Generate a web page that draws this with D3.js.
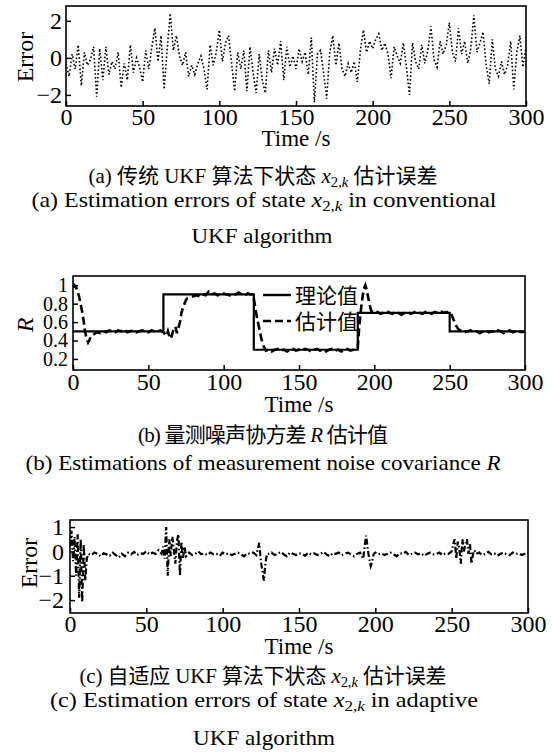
<!DOCTYPE html>
<html>
<head>
<meta charset="utf-8">
<script src="https://cdn.jsdelivr.net/npm/d3@7"></script>
<style>
body { margin: 0; background: #fff; }
svg { display: block; }
text { font-family: "Liberation Serif", "Times New Roman", "Noto Sans CJK SC", serif; fill: #000; }
</style>
</head>
<body>
<div id="chart"></div>
<script>
// shared x ticks
var xTicks = [0, 50, 100, 150, 200, 250, 300];

// (a) conventional UKF error, one value every 2 s
var stepA = 2;
var errA = [-0.3, -1.0, 0.2, -0.6, 0.7, -1.5, 0.3, -0.4, -0.1, 0.6,
  -2.1, 0.5, -1.2, 0.6, -0.9, -0.2, -0.6, 0.3, -1.6, -0.3,
  -1.2, 0.7, -0.8, 0.0, -0.5, -1.3, 0.4, -0.6, 0.6, 1.6,
  -0.2, 1.2, -1.7, 0.5, 2.4, 0.4, 1.2, 0.1, -0.4, 0.3,
  -1.0, -0.4, -0.9, -0.3, 0.1, -0.6, -1.7, 0.7, -0.4, 0.3,
  1.5, -0.2, 0.8, 1.2, -0.3, -1.8, 0.3, -0.6, 0.4, -1.8,
  0.6, -0.8, -1.9, 0.2, -1.2, -1.9, 0.4, -0.8, 0.5, -0.4,
  0.9, -1.2, 0.6, -0.5, 0.1, -0.6, 0.5, -0.2, 0.3, -0.9,
  1.1, -2.4, 0.2, 0.4, -0.8, -2.2, 0.3, 1.2, -0.4, 0.8,
  -0.6, -1.0, -0.3, -0.8, -0.2, -1.3, 0.4, 1.5, 0.3, 0.9,
  0.5, 1.0, 1.3, 0.4, 0.8, 0.2, -1.1, 0.6, 0.1, -0.3,
  0.8, -0.5, -2.0, 0.8, -0.2, -0.6, 0.7, -0.3, 0.4, 1.7,
  -0.1, -0.5, 0.9, 0.2, 0.7, 1.9, 0.3, -0.2, 1.6, 0.2,
  0.9, -0.3, 0.5, 2.3, 0.3, 0.8, 1.4, -0.4, -1.4, 1.0,
  -0.6, -1.0, -0.2, -0.9, -0.4, 0.9, -1.7, 0.3, 1.2, -0.5,
  0.6];
var yTicksA = [-2, 0, 2];

// (b) measurement noise covariance R
var trueT = [0, 60, 60, 120, 120, 189, 189, 250, 250, 300];
var trueR = [0.5, 0.5, 0.9, 0.9, 0.3, 0.3, 0.7, 0.7, 0.5, 0.5];
var estT = [0, 1, 2, 3, 4, 5, 6, 7, 8, 9, 10, 11, 12, 14, 16, 18, 20, 22, 24, 26,
  28, 30, 32, 34, 36, 38, 40, 42, 44, 46, 48, 50, 52, 54, 56, 58, 60, 61, 62, 63,
  64, 65, 66, 67, 68, 69, 70, 71, 72, 73, 74, 75, 76, 78, 80, 82, 84, 86, 88, 90,
  92, 94, 96, 98, 100, 102, 104, 106, 108, 110, 112, 114, 116, 118, 119, 120, 121, 122, 123, 124,
  125, 126, 127, 128, 130, 132, 134, 136, 138, 140, 142, 144, 146, 148, 150, 152, 154, 156, 158, 160,
  162, 164, 166, 168, 170, 172, 174, 176, 178, 180, 182, 184, 186, 188, 189, 190, 191, 192, 193, 194,
  195, 196, 197, 198, 200, 202, 204, 206, 208, 210, 212, 214, 216, 218, 220, 222, 224, 226, 228, 230,
  232, 234, 236, 238, 240, 242, 244, 246, 248, 250, 251, 252, 253, 254, 255, 256, 258, 260, 262, 264,
  266, 268, 270, 272, 274, 276, 278, 280, 282, 284, 286, 288, 290, 292, 294, 296, 298, 300];
var estR = [0.97, 1.0, 0.98, 0.93, 0.88, 0.8, 0.72, 0.62, 0.5, 0.42, 0.38, 0.41, 0.45, 0.47, 0.49, 0.48, 0.5, 0.49, 0.51, 0.5,
  0.49, 0.51, 0.5, 0.52, 0.49, 0.5, 0.51, 0.49, 0.5, 0.51, 0.5, 0.49, 0.51, 0.5, 0.5, 0.51, 0.49, 0.47, 0.45, 0.5,
  0.44, 0.42, 0.48, 0.53, 0.55, 0.48, 0.54, 0.6, 0.7, 0.76, 0.8, 0.84, 0.86, 0.87, 0.88, 0.89, 0.88, 0.9, 0.89, 0.93,
  0.9, 0.91, 0.89, 0.9, 0.91, 0.9, 0.89, 0.91, 0.9, 0.92, 0.9, 0.89, 0.91, 0.9, 0.9, 0.86, 0.75, 0.66, 0.58, 0.5,
  0.42, 0.36, 0.32, 0.29, 0.3, 0.28, 0.3, 0.31, 0.29, 0.3, 0.28, 0.3, 0.31, 0.29, 0.3, 0.29, 0.31, 0.3, 0.28, 0.3,
  0.31, 0.29, 0.3, 0.28, 0.3, 0.31, 0.29, 0.3, 0.28, 0.3, 0.31, 0.29, 0.3, 0.31, 0.32, 0.55, 0.72, 0.85, 0.96, 1.0,
  0.95, 0.86, 0.78, 0.72, 0.7, 0.71, 0.69, 0.7, 0.72, 0.7, 0.69, 0.71, 0.7, 0.68, 0.7, 0.71, 0.69, 0.7, 0.72, 0.7,
  0.69, 0.71, 0.7, 0.69, 0.71, 0.7, 0.72, 0.7, 0.71, 0.71, 0.69, 0.65, 0.61, 0.57, 0.54, 0.52, 0.5, 0.49, 0.5, 0.51,
  0.49, 0.5, 0.48, 0.5, 0.51, 0.49, 0.5, 0.49, 0.51, 0.5, 0.48, 0.5, 0.51, 0.49, 0.5, 0.5, 0.49, 0.5];
var yTicksB = [0.2, 0.4, 0.6, 0.8, 1];
var legendB = ["理论值", "估计值"];

// (c) adaptive UKF error
var errCT = [0, 1, 2, 3, 4, 5, 6, 7, 8, 9, 10, 11, 12, 14, 16, 18, 20, 22, 24, 26,
  28, 30, 32, 34, 36, 38, 40, 42, 44, 46, 48, 50, 52, 54, 56, 58, 60, 61, 62, 63,
  64, 65, 66, 67, 68, 69, 70, 71, 72, 73, 74, 75, 76, 78, 80, 82, 84, 86, 88, 90,
  92, 94, 96, 98, 100, 102, 104, 106, 108, 110, 112, 114, 116, 118, 120, 122, 123, 124, 125, 126,
  127, 128, 129, 130, 132, 134, 136, 138, 140, 142, 144, 146, 148, 150, 152, 154, 156, 158, 160, 162,
  164, 166, 168, 170, 172, 174, 176, 178, 180, 182, 184, 186, 188, 190, 192, 193, 194, 195, 196, 197,
  198, 199, 200, 202, 204, 206, 208, 210, 212, 214, 216, 218, 220, 222, 224, 226, 228, 230, 232, 234,
  236, 238, 240, 242, 244, 246, 248, 250, 251, 252, 253, 254, 255, 256, 257, 258, 259, 260, 261, 262,
  263, 264, 265, 266, 268, 270, 272, 274, 276, 278, 280, 282, 284, 286, 288, 290, 292, 294, 296, 298, 300];
var errC = [0.2, 0.85, -0.4, 0.6, -1.0, 0.7, -1.9, 0.5, -2.1, 0.3, -1.2, -0.3, -0.1, -0.15, -0.05, -0.1, -0.2, -0.08, -0.12, -0.18,
  -0.05, -0.15, -0.25, -0.1, -0.2, -0.05, -0.12, -0.02, -0.15, -0.08, -0.1, 0.0, -0.12, -0.05, -0.1, 0.05, -0.1, 0.2, -0.3, 1.0,
  -1.0, 0.5, -0.2, 0.6, 0.1, -0.5, 0.4, 0.7, -1.0, 0.4, -0.3, 0.2, -0.2, -0.05, -0.15, -0.1, 0.0, -0.12, -0.08, -0.15,
  -0.05, -0.12, -0.1, -0.18, -0.05, -0.12, -0.08, -0.15, -0.1, -0.05, -0.12, -0.2, -0.08, -0.1, -0.05, -0.15, 0.1, 0.35, -0.4, -0.8,
  -1.2, -0.5, -0.1, -0.1, -0.05, -0.15, -0.1, -0.02, -0.12, -0.2, -0.05, -0.1, -0.15, -0.08, -0.1, -0.18, -0.05, -0.12, -0.08, -0.15,
  -0.1, -0.02, -0.12, -0.2, -0.08, -0.1, -0.05, -0.15, -0.1, -0.05, -0.12, -0.2, -0.1, -0.05, -0.3, 0.2, 0.65, 0.1, -0.3, -0.6,
  -0.4, -0.1, -0.05, -0.12, -0.08, -0.15, -0.1, -0.05, -0.12, -0.2, -0.08, -0.1, -0.02, -0.15, -0.1, -0.05, -0.12, -0.08, -0.18, -0.1,
  -0.05, -0.12, -0.1, -0.05, -0.15, -0.08, -0.1, 0.0, 0.3, 0.5, -0.3, 0.4, 0.1, -0.5, 0.5, 0.0, 0.3, 0.5, -0.1, 0.3,
  -0.5, -0.1, 0.05, -0.1, -0.05, -0.15, -0.1, -0.02, -0.12, -0.08, -0.18, -0.1, -0.05, -0.12, -0.15, -0.05, -0.1, -0.08, -0.15, -0.1, -0.05];
var yTicksC = [-2, -1, 0, 1];

var svg = d3.select("#chart").append("svg")
    .attr("width", 552)
    .attr("height", 756);

var serif = '"Liberation Serif", "Times New Roman", "Noto Sans CJK SC", serif';

function draw_panel(cfg) {
  var x = d3.scaleLinear().domain([0, 300]).range([cfg.left, cfg.right]);
  var y = d3.scaleLinear().domain(cfg.yDomain).range([cfg.bottom, cfg.top]);
  var g = svg.append("g");

  g.append("clipPath").attr("id", "clip-" + cfg.id)
    .append("rect")
    .attr("x", cfg.left).attr("y", cfg.top)
    .attr("width", cfg.right - cfg.left).attr("height", cfg.bottom - cfg.top);

  var plot = g.append("g").attr("clip-path", "url(#clip-" + cfg.id + ")");
  cfg.series.forEach(function(s) {
    plot.append("path")
      .datum(d3.zip(s.t, s.v))
      .attr("fill", "none")
      .attr("stroke", "#000")
      .attr("stroke-width", s.width)
      .attr("stroke-dasharray", s.dash)
      .attr("d", d3.line()
        .x(function(d) { return x(d[0]); })
        .y(function(d) { return y(d[1]); }));
  });

  // inward ticks, no domain line (frame drawn below)
  var xa = g.append("g")
    .attr("transform", "translate(0," + cfg.bottom + ")")
    .call(d3.axisBottom(x).tickValues(xTicks).tickSizeInner(-5).tickSizeOuter(0).tickPadding(cfg.xPad));
  var ya = g.append("g")
    .attr("transform", "translate(" + cfg.left + ",0)")
    .call(d3.axisLeft(y).tickValues(cfg.yTicks).tickFormat(d3.format("~g"))
      .tickSizeInner(-5).tickSizeOuter(0).tickPadding(cfg.yPad));
  [xa, ya].forEach(function(a) {
    a.select(".domain").remove();
    a.attr("font-family", serif).attr("font-size", 24);
    a.selectAll("line").attr("stroke-width", 1.5);
  });
  if (cfg.yTickSize) ya.attr("font-size", cfg.yTickSize);

  g.append("rect")
    .attr("x", cfg.left).attr("y", cfg.top)
    .attr("width", cfg.right - cfg.left).attr("height", cfg.bottom - cfg.top)
    .attr("fill", "none").attr("stroke", "#000").attr("stroke-width", 1.6);

  g.append("text")
    .attr("x", (cfg.left + cfg.right) / 2)
    .attr("y", cfg.xLabelY)
    .attr("text-anchor", "middle")
    .attr("font-size", 23)
    .text("Time /s");

  g.append("text")
    .attr("transform", "translate(" + cfg.yLabelX + "," + cfg.yLabelY + ") rotate(-90)")
    .attr("text-anchor", "middle")
    .attr("font-size", 24)
    .attr("font-style", cfg.yLabelItalic ? "italic" : null)
    .text(cfg.yLabel);

  return {x: x, y: y, g: g};
}

// caption line made of pieces; latin lines stretch glyphs, chinese lines only spacing
function caption(parts, cx, baseline, width, zh) {
  var t = svg.append("text")
    .attr("x", cx).attr("y", baseline)
    .attr("text-anchor", "middle")
    .attr("font-size", zh ? 21 : 22)
    .attr("textLength", width)
    .attr("lengthAdjust", zh ? "spacing" : "spacingAndGlyphs");
  var inSub = false;
  parts.forEach(function(p) {
    var ts = t.append("tspan").text(p.s);
    if (p.it) ts.attr("font-style", "italic");
    if (p.sub && !inSub) ts.attr("dy", 4);
    if (!p.sub && inSub) ts.attr("dy", -4);
    if (p.sub) ts.attr("font-size", "70%");
    inSub = !!p.sub;
  });
}

var xsub = [{s: "x", it: true}, {s: "2,", sub: true}, {s: "k", sub: true, it: true}];

var pa = draw_panel({
  id: "a", left: 66, right: 526, top: 6, bottom: 106,
  yDomain: [-2.6, 2.8], yTicks: yTicksA, xPad: 2, yPad: 4,
  xLabelY: 146, yLabel: "Error", yLabelX: 33, yLabelY: 57,
  series: [{t: errA.map(function(d, i) { return i * stepA; }), v: errA, width: 1.6, dash: "1.6,2.2"}]
});

var pb = draw_panel({
  id: "b", left: 73, right: 525, top: 276, bottom: 370,
  yDomain: [0.08, 1.1], yTicks: yTicksB, xPad: 3, yPad: 5, yTickSize: 20,
  xLabelY: 412, yLabel: "R", yLabelItalic: true, yLabelX: 33, yLabelY: 325,
  series: [
    {t: trueT, v: trueR, width: 2.2, dash: null},
    {t: estT, v: estR, width: 2.6, dash: "8,4"}
  ]
});

// legend (b)
var legDash = [null, "8,4"];
legendB.forEach(function(name, i) {
  var ly = 295 + i * 26;
  pb.g.append("line")
    .attr("x1", 263).attr("x2", 291).attr("y1", ly).attr("y2", ly)
    .attr("stroke", "#000").attr("stroke-width", 2.4)
    .attr("stroke-dasharray", legDash[i]);
  pb.g.append("text")
    .attr("x", 295).attr("y", ly)
    .attr("dy", "0.36em")
    .attr("font-size", 21)
    .attr("font-family", '"Noto Sans CJK SC", sans-serif')
    .text(name);
});

var pc = draw_panel({
  id: "c", left: 70, right: 528, top: 520, bottom: 613,
  yDomain: [-2.53, 1.29], yTicks: yTicksC, xPad: 2, yPad: 6,
  xLabelY: 654, yLabel: "Error", yLabelX: 37, yLabelY: 563,
  series: [{t: errCT, v: errC, width: 2.2, dash: "6,2.5,1.5,2.5"}]
});

caption([{s: "(a) 传统 UKF 算法下状态 "}].concat(xsub, [{s: " 估计误差"}]), 263, 183, 349, true);
caption([{s: "(a) Estimation errors of state "}].concat(xsub, [{s: " in conventional"}]), 264, 207, 465);
caption([{s: "UKF algorithm"}], 262, 243, 141);

caption([{s: "(b) 量测噪声协方差 "}, {s: "R", it: true}, {s: " 估计值"}], 263, 442, 250, true);
caption([{s: "(b) Estimations of measurement noise covariance "}, {s: "R", it: true}], 263, 470, 475);

caption([{s: "(c) 自适应 UKF 算法下状态 "}].concat(xsub, [{s: " 估计误差"}]), 263, 683, 367, true);
caption([{s: "(c) Estimation errors of state "}].concat(xsub, [{s: " in adaptive"}]), 264, 707, 428);
caption([{s: "UKF algorithm"}], 264, 745, 142);
</script>
</body>
</html>
